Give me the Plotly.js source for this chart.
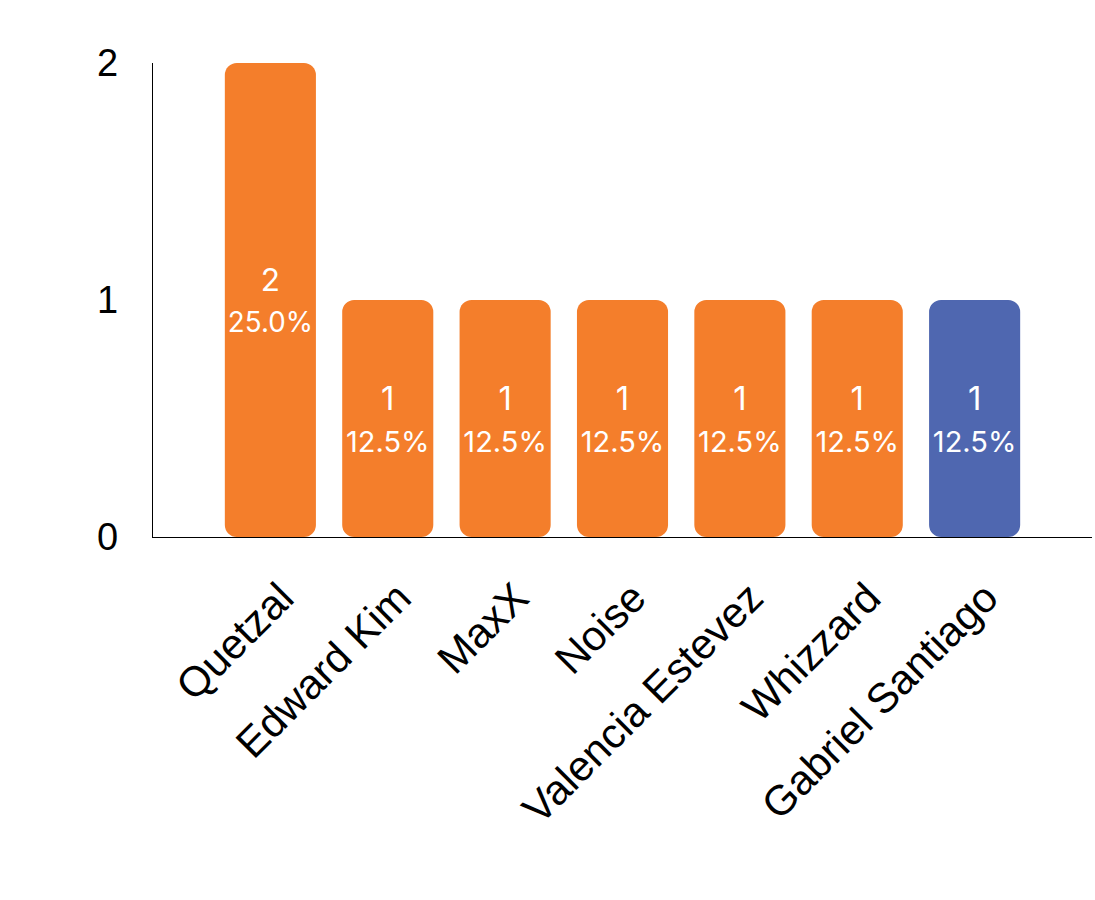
<!DOCTYPE html>
<html>
<head>
<meta charset="utf-8">
<script src="https://cdn.plot.ly/plotly-3.0.1.min.js"></script>
<style>html,body{margin:0;padding:0;background:#fff;}#chart{width:1095px;height:900px;}</style>
</head>
<body>
<div id="chart"></div>
<script>
const categories = ["Quetzal", "Edward Kim", "MaxX", "Noise", "Valencia Estevez", "Whizzard", "Gabriel Santiago"];
const values = [2, 1, 1, 1, 1, 1, 1];
const barColors = ["#F47E2B", "#F47E2B", "#F47E2B", "#F47E2B", "#F47E2B", "#F47E2B", "#4F67B0"];
const yTicks = [0, 1, 2];

const total = values.reduce((a, b) => a + b, 0);
const labels = values.map(v => v + "<br><span style=\"font-size:29px\">" + (v / total * 100).toFixed(1) + "%</span>");
const bases = values.map(() => 0);

const bars = {
  type: "bar",
  x: categories,
  y: values,
  base: bases,
  marker: {color: barColors, cornerradius: 12, line: {width: 0}},
  text: labels,
  textposition: "inside",
  insidetextanchor: "middle",
  textangle: 0,
  constraintext: "none",
  textfont: {family: "Inter, Roboto, sans-serif", size: 33, color: "#ffffff"},
  hoverinfo: "skip",
  showlegend: false
};

const layout = {
  width: 1095,
  height: 900,
  margin: {l: 153, r: 3, t: 63, b: 363},
  paper_bgcolor: "#ffffff",
  plot_bgcolor: "#ffffff",
  bargap: 0.224,
  showlegend: false,
  xaxis: {
    type: "category",
    range: [-1, 7],
    showgrid: false,
    zeroline: false,
    showline: true,
    linecolor: "#000000",
    linewidth: 1.2,
    ticks: "outside",
    ticklen: 18,
    tickcolor: "rgba(0,0,0,0)",
    tickangle: -45,
    ticklabelshift: 11,
    tickfont: {family: "Liberation Sans, Arial, sans-serif", size: 42, color: "#000000"}
  },
  yaxis: {
    range: [0, 2],
    tickvals: yTicks,
    ticktext: yTicks.map(String),
    showgrid: false,
    zeroline: false,
    showline: true,
    linecolor: "#000000",
    linewidth: 1.2,
    ticks: "outside",
    ticklen: 26,
    tickcolor: "rgba(0,0,0,0)",
    tickfont: {family: "Liberation Sans, Arial, sans-serif", size: 38, color: "#000000"}
  }
};

Plotly.newPlot("chart", [bars], layout, {displayModeBar: false, staticPlot: true});
</script>
</body>
</html>
